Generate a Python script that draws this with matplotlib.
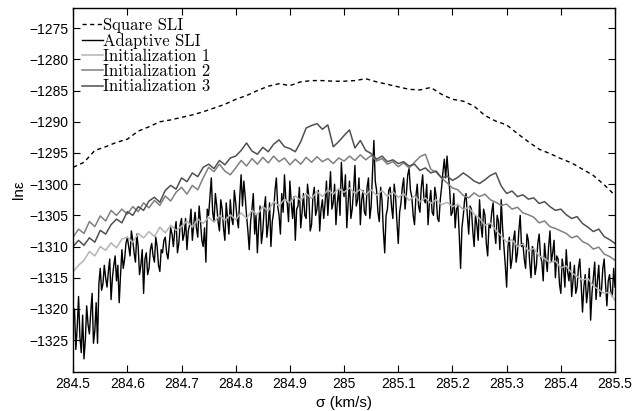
import matplotlib
matplotlib.use("Agg")
import matplotlib.pyplot as plt
import numpy as np

# sigma grids (km/s)
sig_square = np.linspace(284.5, 285.5, 51)
sig_init = np.linspace(284.5, 285.5, 101)
sig_adapt = np.linspace(284.5, 285.5, 401)

square_sli = [-1297.3, -1296.5, -1294.6, -1294.0, -1293.3, -1292.8, -1291.5, -1290.8, -1290.0, -1289.7,
              -1289.3, -1288.9, -1288.4, -1287.8, -1287.2, -1286.4, -1285.8, -1285.0, -1284.3, -1283.9,
              -1284.2, -1283.6, -1283.4, -1283.4, -1283.5, -1283.5, -1283.4, -1283.1, -1283.6, -1284.0,
              -1284.4, -1284.8, -1284.9, -1284.5, -1285.6, -1286.4, -1286.7, -1287.5, -1289.0, -1289.9,
              -1290.5, -1291.9, -1293.2, -1294.4, -1295.1, -1295.9, -1296.6, -1297.6, -1298.6, -1300.1,
              -1301.8]

adaptive_sli = [
    -1322.0, -1320.0, -1326.5, -1323.0, -1318.0, -1324.5, -1327.0, -1321.0, -1328.0, -1325.0,
    -1319.5, -1322.5, -1324.0, -1320.5, -1317.5, -1325.5, -1323.5, -1319.0, -1325.5, -1316.0,
    -1313.5, -1317.0, -1316.0, -1313.0, -1315.0, -1316.5, -1314.0, -1312.0, -1318.5, -1315.0,
    -1313.0, -1311.5, -1315.5, -1313.0, -1319.0, -1314.5, -1310.5, -1313.5, -1312.0, -1309.5,
    -1308.5, -1310.0, -1311.5, -1307.5, -1309.0, -1311.0, -1312.5, -1308.0, -1310.0, -1314.5,
    -1313.0, -1310.5, -1317.5, -1312.0, -1311.0, -1314.5, -1313.5, -1310.5, -1309.5, -1311.5,
    -1312.5, -1308.5, -1310.0, -1313.0, -1314.0, -1310.5, -1311.0, -1309.0, -1308.5, -1311.0,
    -1312.0, -1309.5, -1307.0, -1308.0, -1310.0, -1307.5, -1306.0, -1311.0, -1309.5, -1306.5,
    -1305.5, -1309.0, -1308.0, -1305.5, -1310.5, -1307.5, -1306.5, -1304.0, -1309.0, -1306.5,
    -1304.5, -1307.0, -1308.5, -1303.5, -1306.0, -1309.0, -1310.0, -1307.0, -1312.5, -1304.0,
    -1305.0, -1302.0, -1299.0, -1304.5, -1306.0, -1301.5, -1303.5, -1306.0, -1307.5, -1302.5,
    -1304.0, -1307.0, -1309.0, -1303.0, -1305.5, -1308.0, -1302.5, -1305.5, -1306.5, -1301.0,
    -1303.0, -1305.5, -1307.0, -1302.0, -1298.5, -1303.5, -1299.5, -1302.0, -1305.0, -1307.5,
    -1310.5, -1306.0, -1304.0, -1301.5, -1308.0, -1305.0, -1311.0, -1306.5, -1303.5, -1309.5,
    -1307.5, -1304.0, -1302.0, -1308.5, -1306.5, -1303.0, -1310.0, -1306.0, -1304.5, -1301.0,
    -1299.0, -1303.5, -1305.0, -1308.0, -1301.5, -1304.5, -1298.5, -1302.5, -1303.0, -1306.0,
    -1299.5, -1303.0, -1305.5, -1302.0, -1309.0, -1304.0, -1303.5, -1300.5, -1307.0, -1304.5,
    -1301.5, -1305.0, -1305.5, -1300.0, -1302.0, -1307.5, -1306.5, -1302.0, -1300.5, -1305.0,
    -1304.0, -1301.0, -1307.5, -1304.0, -1302.5, -1305.5, -1303.0, -1299.5, -1305.0, -1301.5,
    -1298.0, -1304.0, -1303.0, -1300.0, -1306.5, -1303.0, -1301.0, -1305.0, -1296.5, -1300.5,
    -1302.0, -1298.5, -1307.0, -1303.0, -1299.5, -1305.5, -1304.0, -1301.0, -1297.0, -1303.5,
    -1302.5, -1299.0, -1306.5, -1302.5, -1301.0, -1304.5, -1305.0, -1300.5, -1299.0, -1305.5,
    -1303.5, -1298.0, -1293.0, -1299.5, -1301.0, -1304.5, -1306.0, -1300.5, -1302.5, -1307.5,
    -1311.0, -1305.0, -1304.0, -1301.0, -1300.5, -1303.5, -1305.5, -1300.0, -1302.0, -1306.0,
    -1309.5, -1304.5, -1303.0, -1300.5, -1299.0, -1304.0, -1301.5, -1298.5, -1297.5, -1301.0,
    -1302.0, -1305.0, -1306.5, -1302.0, -1300.0, -1303.5, -1304.5, -1300.5, -1298.5, -1302.5,
    -1303.0, -1300.0, -1306.5, -1303.0, -1301.0, -1304.5, -1305.0, -1300.5, -1302.0, -1305.5,
    -1306.0, -1302.5, -1300.5, -1298.0, -1296.0, -1299.0, -1295.5, -1298.5, -1301.0, -1305.0,
    -1304.5, -1301.5, -1307.0, -1304.0, -1303.5, -1308.0, -1313.5, -1307.0, -1305.0, -1302.5,
    -1301.5, -1305.0, -1308.0, -1303.5, -1304.0, -1307.5, -1310.0, -1305.0, -1306.5, -1309.0,
    -1302.5, -1306.5, -1308.5, -1304.0, -1305.0, -1309.5, -1311.5, -1306.5, -1307.0, -1304.5,
    -1303.0, -1307.5, -1309.5, -1305.0, -1306.0, -1310.5, -1302.5, -1307.0, -1310.0, -1313.0,
    -1316.5, -1310.0, -1308.5, -1313.5, -1312.0, -1309.0, -1307.5, -1312.5, -1311.0, -1307.5,
    -1305.0, -1310.0, -1309.5, -1312.0, -1313.5, -1308.0, -1309.0, -1312.5, -1315.0, -1310.0,
    -1310.5, -1314.5, -1313.0, -1309.5, -1308.0, -1311.5, -1312.5, -1315.5, -1309.5, -1312.0,
    -1314.0, -1310.0, -1307.5, -1312.5, -1311.0, -1309.0, -1315.0, -1311.5, -1312.0, -1316.0,
    -1317.5, -1312.0, -1313.5, -1316.5, -1310.5, -1314.0, -1315.5, -1312.5, -1318.0, -1315.5,
    -1313.0, -1317.5, -1316.5, -1313.5, -1312.0, -1316.0, -1320.5, -1316.5, -1314.5, -1319.0,
    -1317.0, -1313.5, -1321.8, -1317.5, -1315.0, -1312.5, -1318.5, -1315.5, -1313.0, -1318.0,
    -1317.0, -1313.5, -1312.0, -1316.0, -1319.5, -1315.5, -1314.5, -1317.5, -1318.0, -1313.5,
    -1316.5]

init1 = [-1314.0, -1313.0, -1312.2, -1310.8, -1311.5, -1310.0, -1310.6, -1309.4, -1310.2, -1308.8,
         -1308.5, -1309.3, -1307.9, -1308.6, -1307.6, -1308.4, -1306.9, -1307.8, -1306.6, -1307.4,
         -1306.8, -1305.9, -1306.9, -1305.6, -1306.3, -1305.3, -1306.1, -1305.0, -1305.8, -1304.9,
         -1305.7, -1304.6, -1305.5, -1304.2, -1304.9, -1303.6, -1304.3, -1302.8, -1303.5, -1302.4,
         -1303.0, -1301.9, -1302.6, -1301.5, -1302.3, -1301.2, -1302.0, -1300.9, -1301.6, -1300.7,
         -1301.3, -1300.6, -1301.5, -1300.8, -1301.7, -1300.9, -1301.8, -1301.0, -1302.0, -1301.2,
         -1302.1, -1301.5, -1302.6, -1301.9, -1302.8, -1302.2, -1303.1, -1302.5, -1303.3, -1302.9,
         -1303.6, -1303.2, -1304.1, -1303.7, -1304.8, -1305.5, -1306.6, -1306.2, -1307.4, -1308.3,
         -1309.3, -1308.9, -1310.0, -1309.6, -1310.7, -1310.3, -1311.5, -1311.9, -1312.6, -1312.3,
         -1313.4, -1313.1, -1314.2, -1314.8, -1315.4, -1315.1, -1316.3, -1316.9, -1317.5, -1317.3,
         -1318.6]

init2 = [-1308.5, -1307.2, -1307.9, -1306.0, -1306.8, -1305.1, -1305.9, -1304.2, -1305.0, -1304.0,
         -1304.8, -1303.6, -1304.4, -1303.0, -1303.8, -1302.6, -1303.4, -1301.9, -1302.7, -1301.3,
         -1300.5, -1301.6, -1300.2, -1300.9, -1299.0, -1297.3, -1298.0, -1296.8, -1297.9, -1298.5,
         -1297.4, -1296.2, -1297.1, -1295.9, -1296.8, -1295.7, -1296.6, -1295.5, -1296.4, -1295.8,
         -1296.9, -1296.0, -1296.8, -1295.7, -1296.5, -1295.6, -1296.4, -1295.9, -1296.7, -1295.8,
         -1296.3, -1295.5, -1296.2, -1295.3, -1296.1, -1295.4, -1296.3, -1295.9, -1296.8, -1296.4,
         -1297.2, -1296.6, -1297.4, -1296.5, -1295.6, -1295.2, -1297.6, -1298.1, -1299.0, -1299.8,
         -1300.6, -1300.9, -1301.8, -1302.2, -1301.4, -1302.0, -1301.6, -1302.5, -1302.9, -1303.4,
         -1303.2, -1304.0, -1303.7, -1304.6, -1304.9, -1305.3, -1306.2, -1305.9, -1306.8, -1307.1,
         -1307.5, -1307.9, -1308.6, -1308.3, -1309.2, -1309.6, -1310.4, -1310.1, -1311.2, -1311.6,
         -1312.2]

init3 = [-1310.0, -1309.0, -1309.8, -1308.6, -1309.3, -1307.4, -1308.0, -1306.5, -1305.6, -1306.2,
         -1304.4, -1305.0, -1303.6, -1304.2, -1302.7, -1302.1, -1302.9, -1301.0, -1300.2, -1300.8,
         -1299.0, -1299.6, -1298.2, -1298.8, -1297.3, -1296.8, -1297.5, -1296.2, -1296.9, -1295.8,
         -1295.5, -1294.6, -1293.4, -1294.7, -1295.2, -1294.1, -1294.8, -1293.6, -1292.9, -1294.0,
         -1294.3, -1294.8, -1293.2, -1291.0, -1290.6, -1290.3, -1291.2, -1290.5, -1294.0, -1293.2,
         -1292.2, -1291.3, -1294.2, -1293.0, -1294.6, -1295.1, -1296.0, -1295.5, -1296.4, -1296.1,
         -1296.7, -1296.4, -1297.1, -1296.8, -1297.8, -1297.4, -1298.2, -1297.9, -1299.0, -1298.7,
         -1299.4, -1298.9, -1298.2, -1298.8, -1299.5, -1299.9, -1299.3, -1298.6, -1298.2, -1300.3,
         -1301.5, -1301.1, -1302.0, -1301.7, -1302.4, -1302.2, -1303.1, -1302.8, -1303.6, -1304.2,
         -1304.0, -1304.9, -1305.5, -1305.2, -1306.3, -1306.9, -1307.6, -1307.2, -1308.4, -1308.9,
         -1309.5]

plt.rcParams['font.family'] = ['Liberation Sans', 'DejaVu Sans']

fig = plt.figure(figsize=(6.36, 4.11), dpi=100)
ax = fig.add_axes([0.115, 0.095, 0.852, 0.885])

ax.plot(sig_square, square_sli, color='k', lw=1, dashes=(3, 2.5), label='Square SLI')
ax.plot(sig_adapt, adaptive_sli, color='k', lw=1, label='Adaptive SLI')
ax.plot(sig_init, init1, color='#b4b4b4', lw=1.1, label='Initialization 1')
ax.plot(sig_init, init2, color='#808080', lw=1.1, label='Initialization 2')
ax.plot(sig_init, init3, color='#505050', lw=1.1, label='Initialization 3')

ax.set_xlim(284.5, 285.5)
ax.set_ylim(-1330.1, -1271.8)
ax.set_xticks(np.arange(284.5, 285.51, 0.1))
ax.set_xticklabels(['284.5', '284.6', '284.7', '284.8', '284.9', '285',
                    '285.1', '285.2', '285.3', '285.4', '285.5'])
ax.set_yticks(np.arange(-1325, -1274, 5))
ax.tick_params(direction='in', top=True, right=True, length=5, labelsize=10)
for s in ax.spines.values():
    s.set_linewidth(1)

ax.set_xlabel('σ (km/s)', fontsize=11, labelpad=4)
ax.set_ylabel('lnε', fontsize=11, labelpad=2)

ax.legend(loc='upper left', frameon=False, prop={'family': 'cmr10', 'size': 12},
          handlelength=1.25, handletextpad=0.0, labelspacing=0.0,
          borderaxespad=0.2, borderpad=0.35)

fig.savefig('out.png', dpi=100)
